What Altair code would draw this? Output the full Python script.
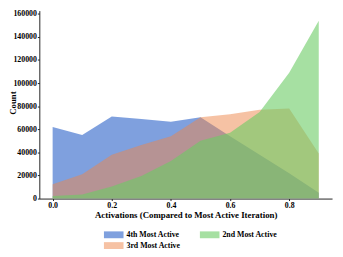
import altair as alt
import pandas as pd

# Data
activations = [0.0, 0.1, 0.2, 0.3, 0.4, 0.5, 0.6, 0.7, 0.8, 0.9]
fourth_most = [62000, 55000, 71000, 69000, 66500, 70500, 54000, 38000, 22000, 5000]
third_most = [12500, 21000, 38000, 46500, 54000, 70500, 73000, 77000, 78000, 39000]
second_most = [2200, 3500, 10500, 19500, 32500, 50000, 57000, 75000, 109000, 154000]

series_names = ["4th Most Active", "3rd Most Active", "2nd Most Active"]
series_values = [fourth_most, third_most, second_most]
legend_order = ["4th Most Active", "2nd Most Active", "3rd Most Active"]
palette = {"4th Most Active": "#4878d0", "3rd Most Active": "#ee854a", "2nd Most Active": "#6acc64"}
alphas = {"4th Most Active": 0.7, "3rd Most Active": 0.7, "2nd Most Active": 0.5}
x_ticks = [0.0, 0.2, 0.4, 0.6, 0.8]
y_ticks = [0, 20000, 40000, 60000, 80000, 100000, 120000, 140000, 160000]

rows = []
for name, vals in zip(series_names, series_values):
    for a, v in zip(activations, vals):
        rows.append({"act": a, "count": v, "series": name})
df = pd.DataFrame(rows)

FONT = "Liberation Serif"

legend = alt.Legend(
    title=None,
    orient="none",
    legendX=71,
    legendY=224,
    columns=2,
    direction="horizontal",
    symbolType="M-2,-0.7H2V0.7H-2Z",
    symbolSize=100,
    symbolStrokeWidth=0,
    labelFont=FONT,
    labelFontWeight="bold",
    labelFontSize=8,
    labelColor="black",
    labelOffset=8,
    columnPadding=19,
    rowPadding=2,
)

base = alt.Chart(df).mark_area(stroke=None).encode(
    x=alt.X(
        "act:Q",
        scale=alt.Scale(domain=[-0.045, 0.945], nice=False, zero=False),
        axis=alt.Axis(
            values=x_ticks,
            format=".1f",
            title="Activations (Compared to Most Active Iteration)",
        ),
    ),
    y=alt.Y(
        "count:Q",
        stack=None,
        scale=alt.Scale(domain=[0, 162750], nice=False),
        axis=alt.Axis(
            values=y_ticks,
            format="d",
            title="Count",
            titleX=-27,
            titleY=94,
            titleAlign="center",
            titleBaseline="middle",
            titleAngle=270,
        ),
    ),
    color=alt.Color(
        "series:N",
        scale=alt.Scale(domain=legend_order, range=[palette[s] for s in legend_order]),
        legend=legend,
    ),
    opacity=alt.Opacity(
        "series:N",
        scale=alt.Scale(domain=legend_order, range=[alphas[s] for s in legend_order]),
        legend=legend,
    ),
)

layers = [base.transform_filter(alt.datum.series == s) for s in series_names]

chart = (
    alt.layer(*layers)
    .properties(
        width=299,
        height=192,
        autosize=alt.AutoSizeParams(type="none"),
        padding={"left": 32, "top": 0, "right": 3, "bottom": 57},
    )
    .configure_view(stroke=None)
    .configure_axis(
        grid=False,
        domainColor="#222222",
        domainWidth=1,
        tickColor="#222222",
        tickSize=2,
        labelPadding=1,
        labelFont=FONT,
        labelFontWeight="bold",
        labelFontSize=8,
        labelColor="black",
        titleFont=FONT,
        titleFontWeight="bold",
        titleFontSize=9,
        titleColor="black",
        titlePadding=1,
    )
    .configure_axisX(labelFlush=False)
)

chart.save("out.html", embed_options={"renderer": "svg", "actions": False})
